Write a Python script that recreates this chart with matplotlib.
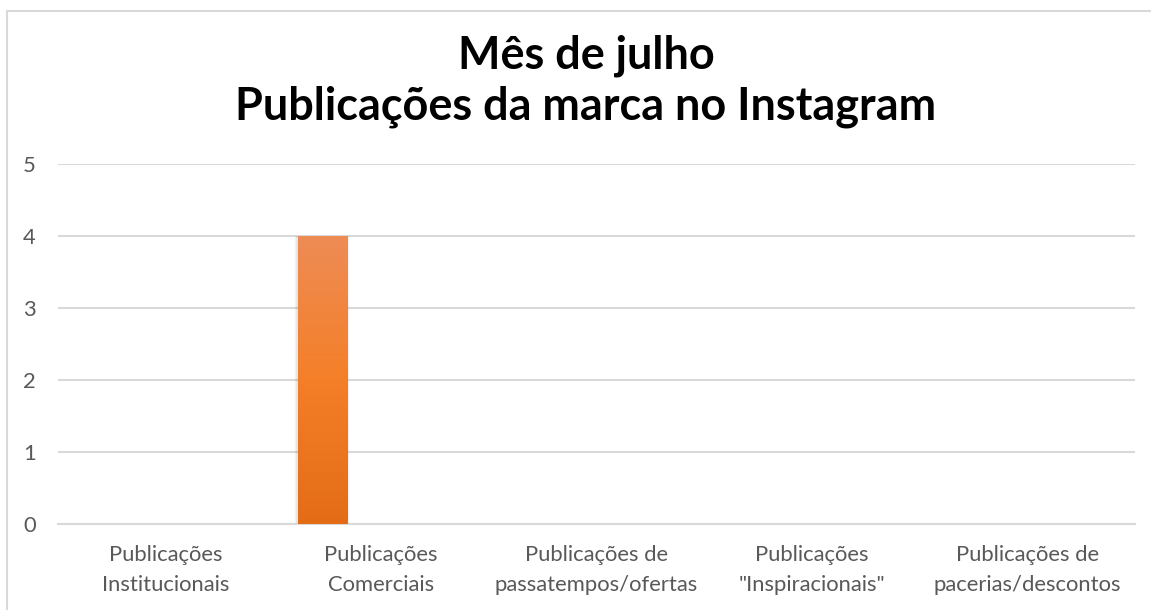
import numpy as np
import matplotlib.pyplot as plt
from matplotlib.colors import LinearSegmentedColormap
from matplotlib.patches import Rectangle

categories = ["Publicações\nInstitucionais", "Publicações\nComerciais",
              "Publicações de\npassatempos/ofertas", "Publicações\n\"Inspiracionais\"",
              "Publicações de\npacerias/descontos"]
values = [0, 4, 0, 0, 0]
yticks = [0, 1, 2, 3, 4, 5]
title = "Mês de julho\nPublicações da marca no Instagram"

plt.rcParams['font.family'] = ['Lato', 'DejaVu Sans']

fig = plt.figure(figsize=(11.51, 6.10), dpi=100)
ax = fig.add_axes([58 / 1151, 1 - 524 / 610, (1135 - 58) / 1151, 360 / 610])

# chart border (partly cut off in the reference)
fig.patches.append(Rectangle((7 / 1151, -0.05), 1.2, 1 - 11 / 610 + 0.05,
                             transform=fig.transFigure, fill=False,
                             edgecolor="#D9D9D9", linewidth=1.5))

x = np.arange(len(categories))
offset, width = -0.274, 0.228
bars = ax.bar(x + offset, values, width=width, color="#F47F28", zorder=3)

cmap = LinearSegmentedColormap.from_list("grad", ["#E46C17", "#F47F28", "#EE8C55"])
grad = np.linspace(0, 1, 256).reshape(-1, 1)
for b in bars:
    h = b.get_height()
    if h <= 0:
        b.set_visible(False)
        continue
    x0 = b.get_x()
    # soft shadow
    for k, a in enumerate([0.05, 0.03, 0.015]):
        d = 0.005 * (k + 1)
        ax.add_patch(Rectangle((x0 - d, -0.015 * (k + 1)), b.get_width() + 2 * d,
                               h + 0.015 * (k + 1), color="black", alpha=a,
                               linewidth=0, zorder=2))
    im = ax.imshow(grad, aspect="auto", cmap=cmap, origin="lower",
                   extent=[x0, x0 + b.get_width(), 0, h], zorder=4)
    im.set_clip_path(b)

ax.set_xlim(-0.5, len(categories) - 0.5)
ax.set_ylim(0, 5)
ax.set_yticks(yticks)
ax.set_xticks(x)
ax.set_xticklabels(categories, fontsize=15.8, color="#595959", linespacing=1.65)
ax.tick_params(axis="y", labelsize=15.8, labelcolor="#595959", length=0, pad=16)
ax.tick_params(axis="x", length=0, pad=15)
ax.grid(axis="y", color="#D9D9D9", linewidth=1.5, zorder=0)
ax.set_axisbelow(True)
for s in ["top", "right", "left"]:
    ax.spines[s].set_visible(False)
ax.spines["bottom"].set_color("#D9D9D9")
ax.spines["bottom"].set_linewidth(1.5)

fig.text(586 / 1151, 1 - 81 / 610, title, ha="center", va="center", fontsize=32.4,
         fontweight="bold", color="black", linespacing=1.25)

fig.savefig("out.png", dpi=100)
